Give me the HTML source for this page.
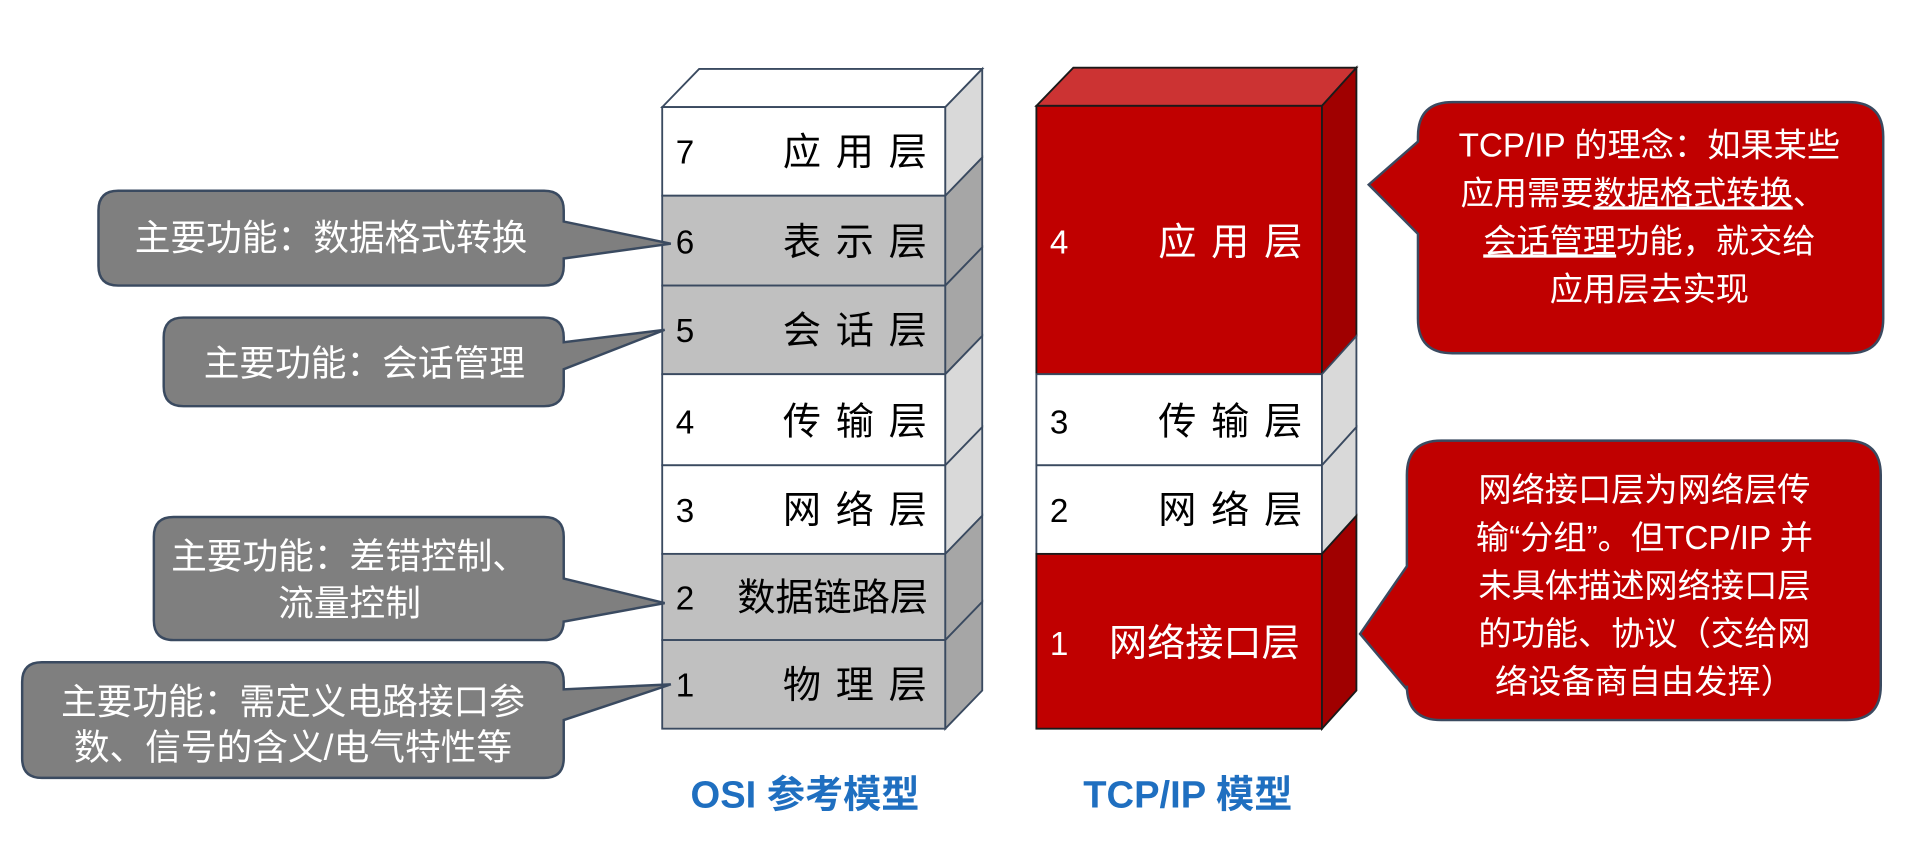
<!DOCTYPE html>
<html><head><meta charset="utf-8"><style>
html,body{margin:0;padding:0;background:#fff;}
svg{display:block;}
text{font-family:"Liberation Sans","Noto Sans CJK SC",sans-serif;}
</style></head><body>
<svg width="1930" height="845" viewBox="0 0 1568 686.5" preserveAspectRatio="none" xmlns="http://www.w3.org/2000/svg">
<rect width="1568" height="686.5" fill="#fff"/>
<g stroke="#3a4a60" stroke-width="1.5">
<polygon points="538,87 568,56 798,56 768,87" fill="#ffffff"/>
<rect x="538" y="87" width="230" height="72" fill="#fff"/>
<polygon points="768,87 798,56 798,128 768,159" fill="#d9d9d9"/>
<rect x="538" y="159" width="230" height="73" fill="#c0c0c0"/>
<polygon points="768,159 798,128 798,201 768,232" fill="#a6a6a6"/>
<rect x="538" y="232" width="230" height="72" fill="#c0c0c0"/>
<polygon points="768,232 798,201 798,273 768,304" fill="#a6a6a6"/>
<rect x="538" y="304" width="230" height="74" fill="#fff"/>
<polygon points="768,304 798,273 798,347 768,378" fill="#d9d9d9"/>
<rect x="538" y="378" width="230" height="72" fill="#fff"/>
<polygon points="768,378 798,347 798,419 768,450" fill="#d9d9d9"/>
<rect x="538" y="450" width="230" height="70" fill="#c0c0c0"/>
<polygon points="768,450 798,419 798,489 768,520" fill="#a6a6a6"/>
<rect x="538" y="520" width="230" height="72" fill="#c0c0c0"/>
<polygon points="768,520 798,489 798,561 768,592" fill="#a6a6a6"/>
</g>
<g stroke="#1a1a1a" stroke-width="1.5">
<polygon points="842,86 872,55 1102,55 1074,86" fill="#cc3333"/>
<rect x="842" y="86" width="232" height="218" fill="#c00000"/>
<polygon points="1074,86 1102,55 1102,273 1074,304" fill="#a00000"/>
</g>
<g stroke="#3a4a60" stroke-width="1.5">
<rect x="842" y="304" width="232" height="74" fill="#fff"/>
<polygon points="1074,304 1102,273 1102,347 1074,378" fill="#d9d9d9"/>
<rect x="842" y="378" width="232" height="72" fill="#fff"/>
<polygon points="1074,378 1102,347 1102,419 1074,450" fill="#d9d9d9"/>
</g>
<g stroke="#1a1a1a" stroke-width="1.5">
<rect x="842" y="450" width="232" height="142" fill="#c00000"/>
<polygon points="1074,450 1102,419 1102,561 1074,592" fill="#a00000"/>
</g>
<g font-size="27" fill="#000">
<text x="549" y="133">7</text><text x="636" y="134" font-size="31" letter-spacing="12">应用层</text>
<text x="549" y="206">6</text><text x="636" y="207" font-size="31" letter-spacing="12">表示层</text>
<text x="549" y="278">5</text><text x="636" y="279" font-size="31" letter-spacing="12">会话层</text>
<text x="549" y="352">4</text><text x="636" y="353" font-size="31" letter-spacing="12">传输层</text>
<text x="549" y="424">3</text><text x="636" y="425" font-size="31" letter-spacing="12">网络层</text>
<text x="549" y="495">2</text><text x="599" y="496" font-size="31">数据链路层</text>
<text x="549" y="566">1</text><text x="636" y="567" font-size="31" letter-spacing="12">物理层</text>
<text x="853" y="352">3</text><text x="941" y="353" font-size="31" letter-spacing="12">传输层</text>
<text x="853" y="424">2</text><text x="941" y="425" font-size="31" letter-spacing="12">网络层</text>
</g>
<g fill="#fff" font-size="27">
<text x="853" y="206">4</text><text x="941" y="207" font-size="31" letter-spacing="12">应用层</text>
<text x="853" y="532">1</text><text x="901" y="533" font-size="31">网络接口层</text>
</g>
<g fill="#7f7f7f" stroke="#3a4a60" stroke-width="2">
<path d="M96,155 H442 Q458,155 458,171 V180 L545,198 L458,210 V216 Q458,232 442,232 H96 Q80,232 80,216 V171 Q80,155 96,155 Z"/>
<path d="M149,258 H442 Q458,258 458,274 V278 L540,268 L458,300 V314 Q458,330 442,330 H149 Q133,330 133,314 V274 Q133,258 149,258 Z"/>
<path d="M141,420 H442 Q458,420 458,436 V470 L540,490 L458,505 V504 Q458,520 442,520 H141 Q125,520 125,504 V436 Q125,420 141,420 Z"/>
<path d="M34,538 H442 Q458,538 458,554 V560 L545,556 L458,585 V616 Q458,632 442,632 H34 Q18,632 18,616 V554 Q18,538 34,538 Z"/>
</g>
<g fill="#fff" font-size="29" text-anchor="middle">
<text x="269" y="203">主要功能：数据格式转换</text>
<text x="296" y="305">主要功能：会话管理</text>
<text x="284" y="462">主要功能：差错控制、</text>
<text x="284" y="500">流量控制</text>
<text x="238" y="580">主要功能：需定义电路接口参</text>
<text x="238" y="617">数、信号的含义/电气特性等</text>
</g>
<g fill="#c00000" stroke="#3a4a60" stroke-width="2">
<path d="M1180,83 H1502 Q1530,83 1530,111 V259 Q1530,287 1502,287 H1180 Q1152,287 1152,259 V190 L1112,150 L1152,115 V111 Q1152,83 1180,83 Z"/>
<path d="M1171,358 H1500 Q1528,358 1528,386 V557 Q1528,585 1500,585 H1171 Q1143,585 1143,557 V560 L1105,515 L1143,460 V386 Q1143,358 1171,358 Z"/>
</g>
<g fill="#fff" font-size="27" text-anchor="middle">
<text x="1340" y="127">TCP/IP 的理念：如果某些</text>
<text x="1335" y="166">应用需要<tspan text-decoration="underline">数据格式转换</tspan>、</text>
<text x="1340" y="205"><tspan text-decoration="underline">会话管理</tspan>功能，就交给</text>
<text x="1340" y="244">应用层去实现</text>
<text x="1336" y="407">网络接口层为网络层传</text>
<text x="1336" y="446">输“分组”。但TCP/IP 并</text>
<text x="1336" y="485">未具体描述网络接口层</text>
<text x="1336" y="524">的功能、协议（交给网</text>
<text x="1336" y="563">络设备商自由发挥）</text>
</g>
<g fill="#1f6fc0" font-size="31" font-weight="bold" text-anchor="middle">
<text x="654" y="656">OSI 参考模型</text>
<text x="965" y="656">TCP/IP 模型</text>
</g>
</svg>
</body></html>
